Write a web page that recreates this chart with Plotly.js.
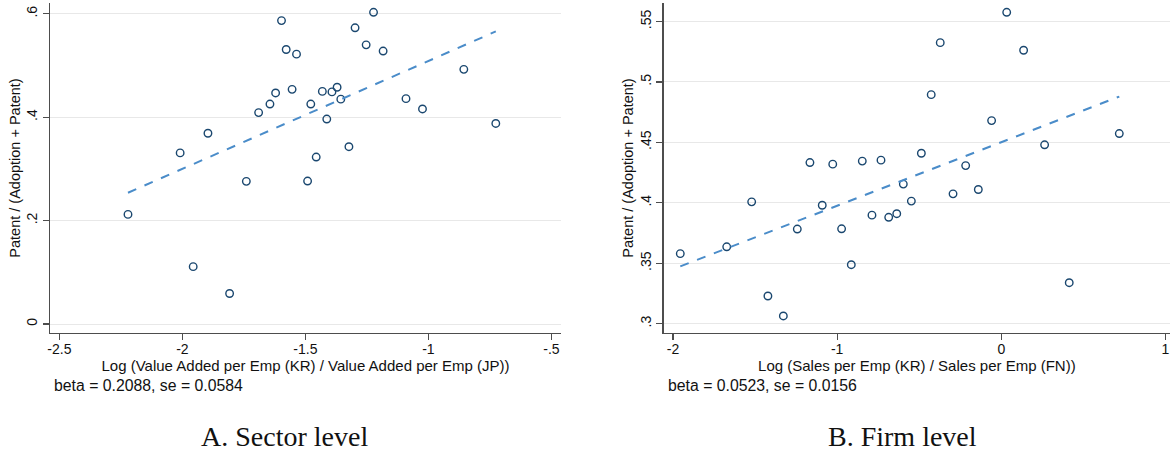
<!DOCTYPE html>
<html>
<head>
<meta charset="utf-8">
<script src="https://cdn.plot.ly/plotly-3.0.1.min.js"></script>
<style>html,body{margin:0;padding:0;background:#fff;}#chart{width:1170px;height:455px;}</style>
</head>
<body>
<div id="chart"></div>
<script>
// Panel A: sector level
const sectorX = [-2.221, -2.009, -1.896, -1.740, -1.690, -1.644, -1.621, -1.597, -1.578, -1.554,
                 -1.536, -1.478, -1.413, -1.431, -1.392, -1.371, -1.356, -1.456, -1.491, -1.323,
                 -1.298, -1.223, -1.253, -1.184, -1.091, -1.024, -0.856, -0.726, -1.956, -1.808];
const sectorY = [0.212, 0.331, 0.369, 0.276, 0.409, 0.4255, 0.447, 0.587, 0.531, 0.454,
                 0.522, 0.4255, 0.3965, 0.450, 0.449, 0.458, 0.435, 0.323, 0.2766, 0.343,
                 0.573, 0.603, 0.540, 0.528, 0.436, 0.416, 0.4926, 0.388, 0.111, 0.059];
const sectorFitX = [-2.221, -0.726];
const sectorFitY = [0.254, 0.566];

// Panel B: firm level
const firmX = [-1.956, -1.673, -1.521, -1.422, -1.328, -1.243, -1.166, -1.091, -1.027, -0.973,
               -0.914, -0.847, -0.788, -0.733, -0.686, -0.637, -0.597, -0.548, -0.487, -0.427,
               -0.372, -0.294, -0.217, -0.140, -0.059, 0.033, 0.136, 0.264, 0.414, 0.719];
const firmY = [0.358, 0.3636, 0.4008, 0.3229, 0.3064, 0.3783, 0.4333, 0.398, 0.432, 0.3785,
               0.3488, 0.4345, 0.3898, 0.4353, 0.388, 0.391, 0.4155, 0.4014, 0.441, 0.4895,
               0.5325, 0.4074, 0.4308, 0.411, 0.468, 0.5576, 0.5262, 0.448, 0.3339, 0.4573];
const firmFitX = [-1.956, 0.719];
const firmFitY = [0.3474, 0.4879];

// Tick labels
const sectorXTicks = [-2.5, -2, -1.5, -1, -0.5];
const sectorXTickText = ['-2.5', '-2', '-1.5', '-1', '-.5'];
const sectorYTicks = [0, 0.2, 0.4, 0.6];
const sectorYTickText = ['0', '.2', '.4', '.6'];
const firmXTicks = [-2, -1, 0, 1];
const firmXTickText = ['-2', '-1', '0', '1'];
const firmYTicks = [0.3, 0.35, 0.4, 0.45, 0.5, 0.55];
const firmYTickText = ['.3', '.35', '.4', '.45', '.5', '.55'];

const yTitle = 'Patent / (Adoption + Patent)';
const sectorXTitle = 'Log (Value Added per Emp (KR) / Value Added per Emp (JP))';
const firmXTitle = 'Log (Sales per Emp (KR) / Sales per Emp (FN))';
const sectorNote = 'beta = 0.2088, se = 0.0584';
const firmNote = 'beta = 0.0523, se = 0.0156';
const captions = ['A. Sector level', 'B. Firm level'];

const markerStyle = {symbol: 'circle-open', size: 7.5, color: '#1a476f', line: {width: 1.4, color: '#1a476f'}};
const fitStyle = {color: '#4a8cc9', width: 2, dash: 'dash'};

const traces = [
  {x: sectorX, y: sectorY, type: 'scatter', mode: 'markers', marker: markerStyle, xaxis: 'x', yaxis: 'y'},
  {x: sectorFitX, y: sectorFitY, type: 'scatter', mode: 'lines', line: fitStyle, xaxis: 'x', yaxis: 'y'},
  {x: firmX, y: firmY, type: 'scatter', mode: 'markers', marker: markerStyle, xaxis: 'x2', yaxis: 'y2'},
  {x: firmFitX, y: firmFitY, type: 'scatter', mode: 'lines', line: fitStyle, xaxis: 'x2', yaxis: 'y2'}
];

const fontFam = '"Liberation Sans", Arial, sans-serif';
const serifFam = '"Liberation Serif", "DejaVu Serif", serif';
const axisCommon = {
  showline: true, linecolor: '#4d4d4d', linewidth: 1.3,
  ticks: 'outside', ticklen: 6, tickwidth: 1.2, tickcolor: '#4d4d4d',
  tickfont: {family: fontFam, size: 14, color: '#111'},
  zeroline: false, mirror: false, fixedrange: true
};

const layout = {
  width: 1170, height: 455,
  margin: {l: 0, r: 0, t: 0, b: 0},
  paper_bgcolor: '#fff', plot_bgcolor: '#fff',
  showlegend: false,
  font: {family: fontFam, color: '#111'},
  xaxis: Object.assign({}, axisCommon, {
    domain: [50/1170, 561/1170], range: [-2.538, -0.461],
    tickmode: 'array', tickvals: sectorXTicks, ticktext: sectorXTickText,
    showgrid: false, anchor: 'y', ticklabelstandoff: -3,
    title: {text: sectorXTitle, font: {family: fontFam, size: 15, color: '#111'}, standoff: 1}
  }),
  yaxis: Object.assign({}, axisCommon, {
    domain: [1 - 333/455, 1 - 3/455], range: [-0.0174, 0.621],
    tickmode: 'array', tickvals: sectorYTicks, ticktext: sectorYTickText, tickangle: -90,
    showgrid: true, gridcolor: '#e8e8e8', gridwidth: 1, anchor: 'x',
    title: {text: yTitle, font: {family: fontFam, size: 14.5, color: '#111'}, standoff: 0}
  }),
  xaxis2: Object.assign({}, axisCommon, {
    domain: [663.7/1170, 1], range: [-2.057, 1.028],
    tickmode: 'array', tickvals: firmXTicks, ticktext: firmXTickText,
    showgrid: false, anchor: 'y2', ticklabelstandoff: -3,
    title: {text: firmXTitle, font: {family: fontFam, size: 15, color: '#111'}, standoff: 1}
  }),
  yaxis2: Object.assign({}, axisCommon, {
    domain: [1 - 333/455, 1 - 3/455], range: [0.2923, 0.5653],
    tickmode: 'array', tickvals: firmYTicks, ticktext: firmYTickText, tickangle: -90,
    showgrid: true, gridcolor: '#e8e8e8', gridwidth: 1, anchor: 'x2',
    title: {text: yTitle, font: {family: fontFam, size: 14.5, color: '#111'}, standoff: 0}
  }),
  annotations: [
    {text: sectorNote, xref: 'paper', yref: 'paper', x: 52/1170, y: 1 - 385/455, xanchor: 'left', yanchor: 'middle', showarrow: false, font: {family: fontFam, size: 15.8, color: '#111'}},
    {text: firmNote, xref: 'paper', yref: 'paper', x: 666/1170, y: 1 - 385/455, xanchor: 'left', yanchor: 'middle', showarrow: false, font: {family: fontFam, size: 15.8, color: '#111'}},
    {text: captions[0], xref: 'paper', yref: 'paper', x: 284/1170, y: 1 - 436/455, xanchor: 'center', yanchor: 'middle', showarrow: false, font: {family: serifFam, size: 28, color: '#111'}},
    {text: captions[1], xref: 'paper', yref: 'paper', x: 902/1170, y: 1 - 436/455, xanchor: 'center', yanchor: 'middle', showarrow: false, font: {family: serifFam, size: 28, color: '#111'}}
  ]
};

Plotly.newPlot('chart', traces, layout, {staticPlot: true, displayModeBar: false});
</script>
</body>
</html>
